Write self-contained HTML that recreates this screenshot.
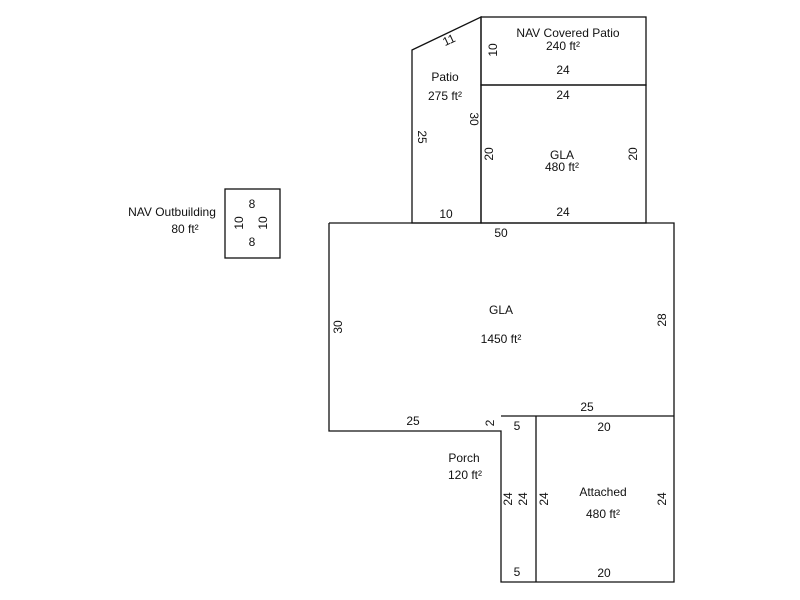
<!DOCTYPE html>
<html><head><meta charset="utf-8"><style>
html,body{margin:0;padding:0;background:#fff;}
svg{display:block;}
text{font-family:"Liberation Sans",Arial,sans-serif;font-size:12px;fill:#111;}
</style></head><body>
<svg width="800" height="600" viewBox="0 0 800 600">
<g fill="none" stroke="#111" stroke-width="1.3">
<polygon points="412,50 481,17 481,223 412,223"/>
<rect x="481" y="17" width="165" height="68"/>
<rect x="481" y="85" width="165" height="138"/>
<polyline points="329,223 674,223 674,582 501,582 501,431 329,431 329,223"/>
<line x1="501" y1="416" x2="674" y2="416"/>
<line x1="536" y1="416" x2="536" y2="582"/>
<rect x="225" y="189" width="55" height="69"/>
</g>
<g text-anchor="middle">
<text x="568" y="37">NAV Covered Patio</text>
<text x="563" y="50">240 ft²</text>
<text x="563" y="74">24</text>
<text x="563" y="99">24</text>
<text x="445" y="81">Patio</text>
<text x="445" y="100">275 ft²</text>
<text x="562" y="159">GLA</text>
<text x="562" y="171">480 ft²</text>
<text x="446" y="218">10</text>
<text x="563" y="216">24</text>
<text x="501" y="237">50</text>
<text x="501" y="314">GLA</text>
<text x="501" y="343">1450 ft²</text>
<text x="413" y="425">25</text>
<text x="587" y="411">25</text>
<text x="517" y="430">5</text>
<text x="604" y="431">20</text>
<text x="464" y="462">Porch</text>
<text x="465" y="479">120 ft²</text>
<text x="603" y="496">Attached</text>
<text x="603" y="518">480 ft²</text>
<text x="517" y="576">5</text>
<text x="604" y="577">20</text>
<text x="172" y="216">NAV Outbuilding</text>
<text x="185" y="233">80 ft²</text>
<text x="252" y="208">8</text>
<text x="252" y="246">8</text>
<text x="449" y="44" transform="rotate(-25 449 40)">11</text>
<text transform="translate(497,50) rotate(-90)">10</text>
<text transform="translate(470,119) rotate(90)">30</text>
<text transform="translate(418,137) rotate(90)">25</text>
<text transform="translate(493,154) rotate(-90)">20</text>
<text transform="translate(637,154) rotate(-90)">20</text>
<text transform="translate(342,327) rotate(-90)">30</text>
<text transform="translate(666,320) rotate(-90)">28</text>
<text transform="translate(494,423) rotate(-90)">2</text>
<text transform="translate(512,499) rotate(-90)">24</text>
<text transform="translate(527,499) rotate(-90)">24</text>
<text transform="translate(548,499) rotate(-90)">24</text>
<text transform="translate(666,499) rotate(-90)">24</text>
<text transform="translate(243,223) rotate(-90)">10</text>
<text transform="translate(267,223) rotate(-90)">10</text>
</g>
</svg>
</body></html>
